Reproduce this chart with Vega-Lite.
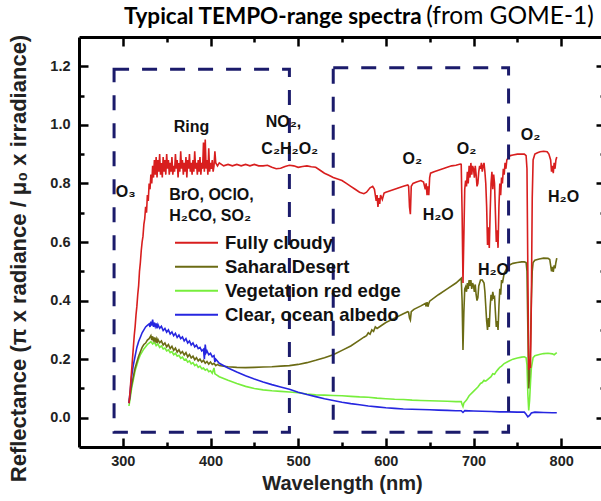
{
  "$schema": "https://vega.github.io/schema/vega-lite/v6.json",
  "autosize": {"type": "none"},
  "padding": {"left": 79, "top": 37, "right": 0, "bottom": 54},
  "width": 526,
  "height": 410,
  "background": "white",
  "config": {
    "view": {"stroke": null},
    "axis": {
      "grid": false,
      "domainColor": "black",
      "domainWidth": 3,
      "tickColor": "black",
      "tickWidth": 2.5,
      "labelFont": "Liberation Sans",
      "labelFontWeight": "bold",
      "labelFontSize": 14.5,
      "labelColor": "#222",
      "titleFont": "Liberation Sans",
      "titleFontWeight": "bold",
      "titleColor": "#222"
    }
  },
  "datasets": {
    "veg": [
      {"w":307,"r":0.04},{"w":308,"r":0.06},{"w":309,"r":0.08},{"w":310,"r":0.10},{"w":312,"r":0.13},{"w":314,"r":0.16},{"w":316,"r":0.18},{"w":318,"r":0.2},{"w":320,"r":0.215},{"w":322,"r":0.225},{"w":324,"r":0.235},{"w":326,"r":0.242},{"w":328,"r":0.25},{"w":330,"r":0.255},{"w":332,"r":0.26},{"w":334,"r":0.252},{"w":336,"r":0.258},{"w":338,"r":0.246},{"w":340,"r":0.252},{"w":342,"r":0.24},{"w":344,"r":0.245},{"w":346,"r":0.235},{"w":348,"r":0.238},{"w":350,"r":0.228},{"w":352,"r":0.232},{"w":354,"r":0.222},{"w":356,"r":0.226},{"w":358,"r":0.215},{"w":360,"r":0.22},{"w":362,"r":0.21},{"w":364,"r":0.213},{"w":366,"r":0.203},{"w":368,"r":0.207},{"w":370,"r":0.197},{"w":372,"r":0.2},{"w":374,"r":0.19},{"w":376,"r":0.194},{"w":378,"r":0.184},{"w":380,"r":0.188},{"w":382,"r":0.178},{"w":384,"r":0.182},{"w":386,"r":0.172},{"w":388,"r":0.176},{"w":390,"r":0.167},{"w":392,"r":0.17},{"w":394,"r":0.162},{"w":396,"r":0.166},{"w":398,"r":0.157},{"w":400,"r":0.16},{"w":402,"r":0.152},{"w":404,"r":0.17},{"w":405,"r":0.15},{"w":406,"r":0.148},{"w":410,"r":0.14},{"w":420,"r":0.128},{"w":430,"r":0.117},{"w":440,"r":0.107},{"w":450,"r":0.1},{"w":460,"r":0.095},{"w":470,"r":0.092},{"w":480,"r":0.09},{"w":490,"r":0.088},{"w":500,"r":0.085},{"w":510,"r":0.081},{"w":520,"r":0.078},{"w":530,"r":0.077},{"w":540,"r":0.076},{"w":550,"r":0.075},{"w":560,"r":0.073},{"w":570,"r":0.071},{"w":580,"r":0.07},{"w":590,"r":0.067},{"w":600,"r":0.065},{"w":610,"r":0.063},{"w":620,"r":0.062},{"w":630,"r":0.06},{"w":640,"r":0.059},{"w":650,"r":0.058},{"w":660,"r":0.057},{"w":670,"r":0.056},{"w":680,"r":0.055},{"w":686,"r":0.055},{"w":687,"r":0.045},{"w":688,"r":0.038},{"w":689,"r":0.05},{"w":692,"r":0.06},{"w":695,"r":0.075},{"w":700,"r":0.09},{"w":705,"r":0.105},{"w":708,"r":0.117},{"w":710,"r":0.12},{"w":712,"r":0.128},{"w":714,"r":0.125},{"w":716,"r":0.13},{"w":718,"r":0.135},{"w":720,"r":0.14},{"w":722,"r":0.15},{"w":724,"r":0.148},{"w":726,"r":0.158},{"w":728,"r":0.165},{"w":730,"r":0.172},{"w":732,"r":0.176},{"w":735,"r":0.185},{"w":740,"r":0.193},{"w":745,"r":0.2},{"w":750,"r":0.204},{"w":755,"r":0.207},{"w":758,"r":0.208},{"w":760,"r":0.205},{"w":761,"r":0.18},{"w":762,"r":0.08},{"w":763,"r":0.025},{"w":764,"r":0.06},{"w":765,"r":0.12},{"w":766,"r":0.17},{"w":768,"r":0.205},{"w":770,"r":0.212},{"w":775,"r":0.216},{"w":780,"r":0.219},{"w":785,"r":0.22},{"w":790,"r":0.218},{"w":792,"r":0.215},{"w":795,"r":0.222}
    ],
    "desert": [
      {"w":307,"r":0.05},{"w":308,"r":0.07},{"w":309,"r":0.09},{"w":310,"r":0.11},{"w":312,"r":0.14},{"w":314,"r":0.17},{"w":316,"r":0.19},{"w":318,"r":0.21},{"w":320,"r":0.225},{"w":322,"r":0.24},{"w":324,"r":0.25},{"w":326,"r":0.255},{"w":328,"r":0.265},{"w":330,"r":0.27},{"w":331,"r":0.275},{"w":332,"r":0.28},{"w":333,"r":0.265},{"w":334,"r":0.278},{"w":335,"r":0.26},{"w":336,"r":0.274},{"w":337,"r":0.262},{"w":338,"r":0.27},{"w":339,"r":0.255},{"w":340,"r":0.268},{"w":342,"r":0.256},{"w":344,"r":0.262},{"w":346,"r":0.248},{"w":348,"r":0.255},{"w":350,"r":0.242},{"w":352,"r":0.25},{"w":354,"r":0.236},{"w":356,"r":0.244},{"w":358,"r":0.23},{"w":360,"r":0.238},{"w":362,"r":0.224},{"w":364,"r":0.232},{"w":366,"r":0.22},{"w":368,"r":0.226},{"w":370,"r":0.214},{"w":372,"r":0.222},{"w":374,"r":0.208},{"w":376,"r":0.216},{"w":378,"r":0.204},{"w":380,"r":0.21},{"w":382,"r":0.198},{"w":384,"r":0.205},{"w":386,"r":0.194},{"w":388,"r":0.2},{"w":390,"r":0.19},{"w":392,"r":0.196},{"w":394,"r":0.186},{"w":396,"r":0.192},{"w":398,"r":0.183},{"w":400,"r":0.19},{"w":402,"r":0.182},{"w":404,"r":0.186},{"w":406,"r":0.178},{"w":408,"r":0.182},{"w":410,"r":0.178},{"w":415,"r":0.176},{"w":420,"r":0.174},{"w":430,"r":0.172},{"w":440,"r":0.171},{"w":450,"r":0.172},{"w":460,"r":0.173},{"w":470,"r":0.174},{"w":480,"r":0.176},{"w":490,"r":0.178},{"w":500,"r":0.182},{"w":510,"r":0.188},{"w":520,"r":0.196},{"w":530,"r":0.205},{"w":540,"r":0.215},{"w":550,"r":0.23},{"w":560,"r":0.245},{"w":570,"r":0.265},{"w":575,"r":0.275},{"w":578,"r":0.28},{"w":580,"r":0.29},{"w":582,"r":0.285},{"w":584,"r":0.3},{"w":586,"r":0.295},{"w":588,"r":0.31},{"w":590,"r":0.305},{"w":595,"r":0.315},{"w":600,"r":0.325},{"w":610,"r":0.34},{"w":620,"r":0.355},{"w":625,"r":0.362},{"w":626,"r":0.36},{"w":627,"r":0.34},{"w":628,"r":0.333},{"w":629,"r":0.362},{"w":632,"r":0.37},{"w":640,"r":0.382},{"w":645,"r":0.39},{"w":646,"r":0.38},{"w":647,"r":0.395},{"w":648,"r":0.379},{"w":649,"r":0.39},{"w":650,"r":0.398},{"w":660,"r":0.42},{"w":670,"r":0.44},{"w":680,"r":0.46},{"w":686,"r":0.476},{"w":687,"r":0.4},{"w":688,"r":0.231},{"w":689,"r":0.36},{"w":690,"r":0.44},{"w":691,"r":0.447},{"w":692,"r":0.43},{"w":693,"r":0.46},{"w":694,"r":0.44},{"w":695,"r":0.47},{"w":696,"r":0.45},{"w":697,"r":0.47},{"w":698,"r":0.44},{"w":699,"r":0.46},{"w":700,"r":0.45},{"w":701,"r":0.43},{"w":702,"r":0.455},{"w":703,"r":0.42},{"w":704,"r":0.4},{"w":705,"r":0.41},{"w":706,"r":0.45},{"w":708,"r":0.47},{"w":710,"r":0.47},{"w":712,"r":0.46},{"w":713,"r":0.43},{"w":714,"r":0.38},{"w":715,"r":0.33},{"w":716,"r":0.3},{"w":717,"r":0.34},{"w":718,"r":0.31},{"w":719,"r":0.38},{"w":720,"r":0.42},{"w":721,"r":0.4},{"w":722,"r":0.43},{"w":723,"r":0.41},{"w":724,"r":0.413},{"w":725,"r":0.36},{"w":726,"r":0.31},{"w":727,"r":0.33},{"w":728,"r":0.3},{"w":729,"r":0.38},{"w":730,"r":0.44},{"w":731,"r":0.42},{"w":732,"r":0.47},{"w":733,"r":0.46},{"w":735,"r":0.493},{"w":738,"r":0.51},{"w":740,"r":0.52},{"w":745,"r":0.527},{"w":750,"r":0.53},{"w":755,"r":0.532},{"w":758,"r":0.532},{"w":760,"r":0.53},{"w":761,"r":0.5},{"w":762,"r":0.3},{"w":763,"r":0.1},{"w":764,"r":0.15},{"w":765,"r":0.25},{"w":766,"r":0.4},{"w":767,"r":0.5},{"w":768,"r":0.53},{"w":770,"r":0.538},{"w":775,"r":0.542},{"w":780,"r":0.545},{"w":785,"r":0.544},{"w":787,"r":0.54},{"w":788,"r":0.52},{"w":789,"r":0.5},{"w":790,"r":0.515},{"w":791,"r":0.498},{"w":792,"r":0.52},{"w":793,"r":0.51},{"w":794,"r":0.53},{"w":795,"r":0.545}
    ],
    "ocean": [
      {"w":307,"r":0.05},{"w":308,"r":0.08},{"w":309,"r":0.11},{"w":310,"r":0.14},{"w":312,"r":0.18},{"w":314,"r":0.21},{"w":316,"r":0.24},{"w":318,"r":0.26},{"w":320,"r":0.275},{"w":322,"r":0.29},{"w":324,"r":0.3},{"w":326,"r":0.31},{"w":328,"r":0.315},{"w":330,"r":0.32},{"w":331,"r":0.31},{"w":332,"r":0.328},{"w":333,"r":0.315},{"w":334,"r":0.335},{"w":335,"r":0.31},{"w":336,"r":0.325},{"w":337,"r":0.312},{"w":338,"r":0.322},{"w":339,"r":0.305},{"w":340,"r":0.318},{"w":342,"r":0.305},{"w":344,"r":0.312},{"w":346,"r":0.298},{"w":348,"r":0.305},{"w":350,"r":0.292},{"w":352,"r":0.3},{"w":354,"r":0.286},{"w":356,"r":0.293},{"w":358,"r":0.28},{"w":360,"r":0.288},{"w":362,"r":0.274},{"w":364,"r":0.282},{"w":366,"r":0.27},{"w":368,"r":0.276},{"w":370,"r":0.262},{"w":372,"r":0.27},{"w":374,"r":0.255},{"w":376,"r":0.262},{"w":378,"r":0.248},{"w":380,"r":0.255},{"w":382,"r":0.242},{"w":384,"r":0.248},{"w":386,"r":0.236},{"w":388,"r":0.24},{"w":390,"r":0.228},{"w":392,"r":0.234},{"w":393,"r":0.2},{"w":394,"r":0.25},{"w":395,"r":0.222},{"w":396,"r":0.228},{"w":398,"r":0.215},{"w":400,"r":0.22},{"w":402,"r":0.208},{"w":404,"r":0.212},{"w":405,"r":0.19},{"w":406,"r":0.2},{"w":410,"r":0.186},{"w":420,"r":0.17},{"w":430,"r":0.156},{"w":440,"r":0.143},{"w":450,"r":0.132},{"w":460,"r":0.122},{"w":470,"r":0.113},{"w":480,"r":0.105},{"w":490,"r":0.097},{"w":500,"r":0.087},{"w":510,"r":0.079},{"w":520,"r":0.072},{"w":530,"r":0.065},{"w":540,"r":0.059},{"w":550,"r":0.053},{"w":560,"r":0.048},{"w":570,"r":0.044},{"w":580,"r":0.04},{"w":590,"r":0.037},{"w":600,"r":0.034},{"w":610,"r":0.032},{"w":620,"r":0.03},{"w":630,"r":0.029},{"w":640,"r":0.028},{"w":650,"r":0.027},{"w":660,"r":0.026},{"w":670,"r":0.025},{"w":680,"r":0.024},{"w":686,"r":0.024},{"w":688,"r":0.018},{"w":690,"r":0.024},{"w":700,"r":0.023},{"w":710,"r":0.022},{"w":720,"r":0.021},{"w":730,"r":0.02},{"w":740,"r":0.02},{"w":750,"r":0.019},{"w":758,"r":0.019},{"w":760,"r":0.012},{"w":762,"r":0.003},{"w":764,"r":0.008},{"w":766,"r":0.016},{"w":770,"r":0.019},{"w":780,"r":0.018},{"w":790,"r":0.017},{"w":795,"r":0.017}
    ],
    "cloudy": [
      {"w":307,"r":0.05},{"w":308,"r":0.08},{"w":309,"r":0.12},{"w":310,"r":0.16},{"w":311,"r":0.2},{"w":312,"r":0.24},{"w":313,"r":0.28},{"w":314,"r":0.31},{"w":315,"r":0.35},{"w":316,"r":0.38},{"w":317,"r":0.42},{"w":318,"r":0.45},{"w":319,"r":0.5},{"w":320,"r":0.53},{"w":321,"r":0.57},{"w":322,"r":0.6},{"w":323,"r":0.62},{"w":324,"r":0.66},{"w":325,"r":0.68},{"w":326,"r":0.72},{"w":327,"r":0.7},{"w":328,"r":0.76},{"w":329,"r":0.74},{"w":330,"r":0.8},{"w":331,"r":0.78},{"w":332,"r":0.83},{"w":333,"r":0.8},{"w":334,"r":0.86},{"w":335,"r":0.82},{"w":336,"r":0.88},{"w":337,"r":0.83},{"w":338,"r":0.89},{"w":339,"r":0.82},{"w":340,"r":0.88},{"w":341,"r":0.84},{"w":342,"r":0.9},{"w":343,"r":0.83},{"w":344,"r":0.87},{"w":345,"r":0.82},{"w":346,"r":0.89},{"w":347,"r":0.84},{"w":348,"r":0.88},{"w":349,"r":0.83},{"w":350,"r":0.9},{"w":351,"r":0.85},{"w":352,"r":0.88},{"w":353,"r":0.83},{"w":354,"r":0.87},{"w":355,"r":0.84},{"w":356,"r":0.89},{"w":357,"r":0.83},{"w":358,"r":0.86},{"w":359,"r":0.84},{"w":360,"r":0.9},{"w":361,"r":0.85},{"w":362,"r":0.88},{"w":363,"r":0.82},{"w":364,"r":0.87},{"w":365,"r":0.84},{"w":366,"r":0.91},{"w":367,"r":0.85},{"w":368,"r":0.88},{"w":369,"r":0.83},{"w":370,"r":0.87},{"w":371,"r":0.84},{"w":372,"r":0.89},{"w":373,"r":0.82},{"w":374,"r":0.88},{"w":375,"r":0.85},{"w":376,"r":0.9},{"w":377,"r":0.84},{"w":378,"r":0.87},{"w":379,"r":0.83},{"w":380,"r":0.88},{"w":381,"r":0.84},{"w":382,"r":0.91},{"w":383,"r":0.85},{"w":384,"r":0.87},{"w":385,"r":0.83},{"w":386,"r":0.88},{"w":387,"r":0.84},{"w":388,"r":0.89},{"w":389,"r":0.83},{"w":390,"r":0.87},{"w":391,"r":0.85},{"w":392,"r":0.94},{"w":393,"r":0.84},{"w":394,"r":0.95},{"w":395,"r":0.85},{"w":396,"r":0.88},{"w":397,"r":0.83},{"w":398,"r":0.92},{"w":399,"r":0.84},{"w":400,"r":0.87},{"w":401,"r":0.85},{"w":402,"r":0.88},{"w":403,"r":0.84},{"w":404,"r":0.86},{"w":405,"r":0.91},{"w":406,"r":0.87},{"w":408,"r":0.86},{"w":410,"r":0.87},{"w":415,"r":0.86},{"w":420,"r":0.865},{"w":425,"r":0.86},{"w":430,"r":0.865},{"w":435,"r":0.86},{"w":440,"r":0.865},{"w":445,"r":0.86},{"w":450,"r":0.865},{"w":455,"r":0.86},{"w":460,"r":0.86},{"w":465,"r":0.862},{"w":470,"r":0.855},{"w":475,"r":0.85},{"w":480,"r":0.852},{"w":485,"r":0.858},{"w":490,"r":0.862},{"w":495,"r":0.86},{"w":500,"r":0.855},{"w":505,"r":0.858},{"w":510,"r":0.86},{"w":515,"r":0.857},{"w":520,"r":0.855},{"w":525,"r":0.845},{"w":530,"r":0.835},{"w":535,"r":0.828},{"w":540,"r":0.82},{"w":545,"r":0.815},{"w":550,"r":0.81},{"w":555,"r":0.8},{"w":560,"r":0.79},{"w":565,"r":0.78},{"w":570,"r":0.77},{"w":575,"r":0.765},{"w":578,"r":0.77},{"w":582,"r":0.785},{"w":585,"r":0.79},{"w":587,"r":0.78},{"w":589,"r":0.74},{"w":590,"r":0.76},{"w":591,"r":0.72},{"w":592,"r":0.75},{"w":593,"r":0.73},{"w":594,"r":0.76},{"w":596,"r":0.745},{"w":598,"r":0.767},{"w":600,"r":0.77},{"w":605,"r":0.775},{"w":610,"r":0.78},{"w":615,"r":0.785},{"w":620,"r":0.79},{"w":625,"r":0.795},{"w":626,"r":0.79},{"w":627,"r":0.72},{"w":628,"r":0.695},{"w":629,"r":0.79},{"w":631,"r":0.8},{"w":635,"r":0.805},{"w":640,"r":0.81},{"w":643,"r":0.805},{"w":645,"r":0.78},{"w":646,"r":0.8},{"w":647,"r":0.76},{"w":648,"r":0.79},{"w":649,"r":0.76},{"w":650,"r":0.82},{"w":651,"r":0.835},{"w":655,"r":0.84},{"w":660,"r":0.845},{"w":665,"r":0.85},{"w":670,"r":0.855},{"w":675,"r":0.86},{"w":680,"r":0.862},{"w":685,"r":0.866},{"w":686,"r":0.865},{"w":687,"r":0.7},{"w":688,"r":0.46},{"w":689,"r":0.62},{"w":690,"r":0.78},{"w":691,"r":0.81},{"w":692,"r":0.79},{"w":693,"r":0.84},{"w":694,"r":0.8},{"w":695,"r":0.86},{"w":696,"r":0.82},{"w":697,"r":0.87},{"w":698,"r":0.83},{"w":699,"r":0.86},{"w":700,"r":0.85},{"w":701,"r":0.82},{"w":702,"r":0.86},{"w":703,"r":0.83},{"w":704,"r":0.79},{"w":705,"r":0.8},{"w":706,"r":0.84},{"w":707,"r":0.86},{"w":708,"r":0.85},{"w":709,"r":0.87},{"w":710,"r":0.84},{"w":711,"r":0.86},{"w":712,"r":0.87},{"w":713,"r":0.84},{"w":714,"r":0.8},{"w":715,"r":0.72},{"w":716,"r":0.59},{"w":717,"r":0.65},{"w":718,"r":0.58},{"w":719,"r":0.7},{"w":720,"r":0.8},{"w":721,"r":0.84},{"w":722,"r":0.78},{"w":723,"r":0.83},{"w":724,"r":0.8},{"w":725,"r":0.7},{"w":726,"r":0.6},{"w":727,"r":0.64},{"w":728,"r":0.58},{"w":729,"r":0.72},{"w":730,"r":0.8},{"w":731,"r":0.76},{"w":732,"r":0.82},{"w":733,"r":0.8},{"w":734,"r":0.85},{"w":735,"r":0.83},{"w":736,"r":0.87},{"w":737,"r":0.85},{"w":738,"r":0.88},{"w":740,"r":0.89},{"w":742,"r":0.895},{"w":745,"r":0.897},{"w":750,"r":0.9},{"w":755,"r":0.9},{"w":758,"r":0.9},{"w":760,"r":0.895},{"w":761,"r":0.85},{"w":762,"r":0.5},{"w":763,"r":0.163},{"w":764,"r":0.2},{"w":765,"r":0.17},{"w":766,"r":0.4},{"w":767,"r":0.75},{"w":768,"r":0.88},{"w":770,"r":0.9},{"w":773,"r":0.905},{"w":776,"r":0.908},{"w":780,"r":0.91},{"w":784,"r":0.908},{"w":786,"r":0.9},{"w":788,"r":0.88},{"w":789,"r":0.84},{"w":790,"r":0.86},{"w":791,"r":0.835},{"w":792,"r":0.87},{"w":793,"r":0.85},{"w":794,"r":0.88},{"w":795,"r":0.89}
    ],
    "boxes": [
      {"x1":290,"x2":490,"y1":-0.05,"y2":1.19},
      {"x1":540,"x2":740,"y1":-0.05,"y2":1.195}
    ],
    "notes": [
      {"w":358,"r":0.976,"t":"Ring"},
      {"w":463,"r":0.993,"t":"NO₂,"},
      {"w":458,"r":0.902,"t":"C₂H₂O₂"},
      {"w":353,"r":0.743,"t":"BrO, OClO,"},
      {"w":353,"r":0.672,"t":"H₂CO, SO₂"},
      {"w":292,"r":0.753,"t":"O₃"},
      {"w":619,"r":0.866,"t":"O₂"},
      {"w":642,"r":0.675,"t":"H₂O"},
      {"w":681,"r":0.902,"t":"O₂"},
      {"w":754,"r":0.948,"t":"O₂"},
      {"w":785,"r":0.737,"t":"H₂O"},
      {"w":705,"r":0.487,"t":"H₂O"}
    ],
    "titleBold": [{"w":641,"r":1.344,"t":"Typical TEMPO-range spectra"}],
    "titleNormal": [{"w":646,"r":1.344,"t":"(from GOME-1)"}]
  },
  "layer": [
    {
      "data": {"name": "veg"},
      "mark": {"type": "line", "strokeWidth": 1.6},
      "encoding": {
        "x": {"field": "w", "type": "quantitative", "scale": {"domain": [250, 850], "nice": false, "zero": false},
          "axis": {"orient": "bottom", "values": [300,350,400,450,500,550,600,650,700,750,800], "format": "d",
            "labelExpr": "datum.value % 100 === 0 ? datum.label : ''",
            "tickSize": {"condition": {"test": "datum.value % 100 === 0", "value": -9}, "value": -5},
            "labelPadding": 16, "title": "Wavelength (nm)", "titleFontSize": 20, "titlePadding": 6}},
        "y": {"field": "r", "type": "quantitative", "scale": {"domain": [-0.1, 1.3], "nice": false, "zero": false},
          "axis": {"orient": "left", "values": [0,0.1,0.2,0.3,0.4,0.5,0.6,0.7,0.8,0.9,1.0,1.1,1.2],
            "labelExpr": "round(datum.value*10) % 2 === 0 ? format(datum.value, '.1f') : ''",
            "tickSize": {"condition": {"test": "round(datum.value*10) % 2 === 0", "value": -9}, "value": -5},
            "labelPadding": 18, "title": "Reflectance (π x radiance / μ₀ x irradiance)", "titleFontSize": 22,
            "titleY": 221, "titleX": -49, "titleBaseline": "bottom"}},
        "color": {"datum": "Vegetation red edge", "type": "nominal",
          "scale": {"domain": ["Fully cloudy", "Sahara Desert", "Vegetation red edge", "Clear, ocean albedo"],
            "range": ["#d81e1e", "#6b6b14", "#77ee3c", "#2626e0"]},
          "legend": {"orient": "none", "legendX": 95, "legendY": 194, "title": null, "symbolType": "stroke",
            "symbolSize": 1849, "symbolStrokeWidth": 2, "labelFont": "Liberation Sans", "labelFontWeight": "bold",
            "labelFontSize": 18.5, "labelColor": "#111", "labelOffset": 6, "labelLimit": 400, "clipHeight": 23.3, "rowPadding": 0}}
      }
    },
    {
      "data": {"name": "desert"},
      "mark": {"type": "line", "strokeWidth": 1.6},
      "encoding": {
        "x": {"field": "w", "type": "quantitative", "axis": null},
        "y": {"field": "r", "type": "quantitative", "axis": null},
        "color": {"datum": "Sahara Desert", "type": "nominal"}
      }
    },
    {
      "data": {"name": "ocean"},
      "mark": {"type": "line", "strokeWidth": 1.6},
      "encoding": {
        "x": {"field": "w", "type": "quantitative", "axis": null},
        "y": {"field": "r", "type": "quantitative", "axis": null},
        "color": {"datum": "Clear, ocean albedo", "type": "nominal"}
      }
    },
    {
      "data": {"name": "cloudy"},
      "mark": {"type": "line", "strokeWidth": 1.6},
      "encoding": {
        "x": {"field": "w", "type": "quantitative", "axis": null},
        "y": {"field": "r", "type": "quantitative", "axis": null},
        "color": {"datum": "Fully cloudy", "type": "nominal"}
      }
    },
    {
      "data": {"name": "boxes"},
      "mark": {"type": "rect", "fill": null, "stroke": "#1b1b6b", "strokeWidth": 3, "strokeDash": [15, 13]},
      "encoding": {
        "x": {"field": "x1", "type": "quantitative",
          "axis": {"orient": "top", "values": [300,350,400,450,500,550,600,650,700,750,800], "labels": false, "title": null,
            "tickSize": {"condition": {"test": "datum.value % 100 === 0", "value": -9}, "value": -5}}},
        "x2": {"field": "x2"},
        "y": {"field": "y1", "type": "quantitative",
          "axis": {"orient": "right", "values": [0,0.1,0.2,0.3,0.4,0.5,0.6,0.7,0.8,0.9,1.0,1.1,1.2], "labels": false, "title": null,
            "tickSize": {"condition": {"test": "round(datum.value*10) % 2 === 0", "value": -9}, "value": -5}}},
        "y2": {"field": "y2"}
      }
    },
    {
      "data": {"name": "notes"},
      "mark": {"type": "text", "align": "left", "baseline": "alphabetic", "font": "Liberation Sans", "fontWeight": "bold", "fontSize": 16, "color": "#111"},
      "encoding": {
        "x": {"field": "w", "type": "quantitative", "axis": null},
        "y": {"field": "r", "type": "quantitative", "axis": null},
        "text": {"field": "t"}
      }
    },
    {
      "data": {"name": "titleBold"},
      "mark": {"type": "text", "align": "right", "baseline": "alphabetic", "font": "Lato", "fontWeight": "bold", "fontSize": 22.5, "color": "black"},
      "encoding": {
        "x": {"field": "w", "type": "quantitative", "axis": null},
        "y": {"field": "r", "type": "quantitative", "axis": null},
        "text": {"field": "t"}
      }
    },
    {
      "data": {"name": "titleNormal"},
      "mark": {"type": "text", "align": "left", "baseline": "alphabetic", "font": "Lato", "fontSize": 24.5, "color": "black"},
      "encoding": {
        "x": {"field": "w", "type": "quantitative", "axis": null},
        "y": {"field": "r", "type": "quantitative", "axis": null},
        "text": {"field": "t"}
      }
    }
  ],
  "resolve": {"axis": {"x": "independent", "y": "independent"}}
}
